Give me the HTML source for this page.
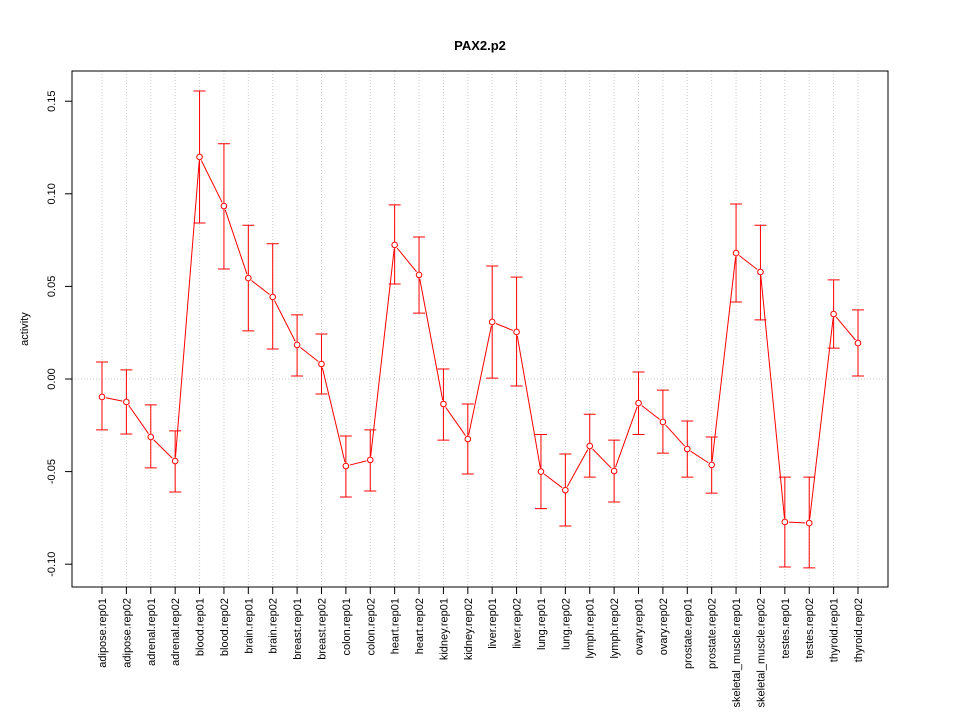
<!DOCTYPE html>
<html><head><meta charset="utf-8"><style>
body{margin:0;background:#fff;}
svg{display:block;font-family:"Liberation Sans",sans-serif;}
</style></head><body>
<svg id="chart" width="960" height="720">
<text x="480" y="50" text-anchor="middle" font-size="13" font-weight="bold">PAX2.p2</text>
<text transform="translate(28,329) rotate(-90)" text-anchor="middle" font-size="11">activity</text>
<g id="grid"></g><g id="axes"></g><g id="marks"></g>
<rect x="72" y="71" width="816" height="516" fill="none" stroke="#000"/>
</svg>
<script>
const categories=["adipose.rep01","adipose.rep02","adrenal.rep01","adrenal.rep02","blood.rep01","blood.rep02","brain.rep01","brain.rep02","breast.rep01","breast.rep02","colon.rep01","colon.rep02","heart.rep01","heart.rep02","kidney.rep01","kidney.rep02","liver.rep01","liver.rep02","lung.rep01","lung.rep02","lymph.rep01","lymph.rep02","ovary.rep01","ovary.rep02","prostate.rep01","prostate.rep02","skeletal_muscle.rep01","skeletal_muscle.rep02","testes.rep01","testes.rep02","thyroid.rep01","thyroid.rep02"];
const values=[-0.0097,-0.0124,-0.0313,-0.0443,0.1199,0.0934,0.0545,0.0443,0.0184,0.0081,-0.047,-0.0437,0.0724,0.0562,-0.0135,-0.0324,0.0308,0.0254,-0.05,-0.06,-0.0362,-0.0497,-0.013,-0.0232,-0.0378,-0.0464,0.068,0.0578,-0.0772,-0.0778,0.0351,0.0194];
const upper=[0.0092,0.0049,-0.014,-0.028,0.1555,0.127,0.083,0.073,0.0346,0.0243,-0.0308,-0.0275,0.094,0.0767,0.0054,-0.0135,0.061,0.055,-0.030,-0.0405,-0.019,-0.033,0.0038,-0.006,-0.0227,-0.0313,0.0945,0.083,-0.053,-0.053,0.0535,0.0373];
const lower=[-0.0275,-0.0297,-0.048,-0.061,0.0842,0.0594,0.026,0.0162,0.0016,-0.0081,-0.0637,-0.0605,0.0513,0.0356,-0.033,-0.0513,0.0005,-0.0038,-0.070,-0.0794,-0.053,-0.0664,-0.030,-0.040,-0.053,-0.0616,0.0416,0.0319,-0.1015,-0.102,0.0167,0.0016];
const yTicks=[-0.10,-0.05,0.00,0.05,0.10,0.15];
const yTickLabels=["-0.10","-0.05","0.00","0.05","0.10","0.15"];
const NS="http://www.w3.org/2000/svg";
function x(i){return 102+i*(858-102)/(categories.length-1);}
function y(v){return 379-v*1852;}
function mk(tag,attrs,parent){const e=document.createElementNS(NS,tag);for(const k in attrs)e.setAttribute(k,attrs[k]);document.getElementById(parent).appendChild(e);return e;}
categories.forEach((c,i)=>{
 const g=mk("line",{x1:x(i),x2:x(i),y1:71,y2:587,stroke:"#ccc","stroke-dasharray":"1,2"},"grid");
 
 
 const t=mk("line",{x1:x(i),x2:x(i),y1:587,y2:594,stroke:"#000"},"axes");
 
 
 const l=mk("text",{transform:`translate(${x(i)+4},598) rotate(-90)`,"text-anchor":"end","font-size":"11"},"axes");
 l.textContent=c;
 
 
});
const zl=mk("line",{x1:72,x2:888,y1:y(0),y2:y(0),stroke:"#ccc","stroke-dasharray":"1,2"},"grid");


yTicks.forEach((v,i)=>{
 const t=mk("line",{x1:65,x2:72,y1:y(v),y2:y(v),stroke:"#000"},"axes");
 
 
 const l=mk("text",{transform:`translate(55,${y(v)}) rotate(-90)`,"text-anchor":"middle","font-size":"11"},"axes");
 l.textContent=yTickLabels[i];
 
 
});
for(let i=0;i<values.length-1;i++){
 const x1=x(i),y1=y(values[i]),x2=x(i+1),y2=y(values[i+1]);
 const dx=x2-x1,dy=y2-y1,len=Math.hypot(dx,dy),g=4;
 if(len<=2*g)continue;
 const s=mk("line",{x1:x1+dx*g/len,y1:y1+dy*g/len,x2:x2-dx*g/len,y2:y2-dy*g/len,stroke:"red"},"marks");
 
 
}
values.forEach((v,i)=>{
 const xi=x(i);
 const e=mk("path",{d:`M${xi},${y(upper[i])}V${y(lower[i])}M${xi-6},${y(upper[i])}H${xi+6}M${xi-6},${y(lower[i])}H${xi+6}`,stroke:"red",fill:"none"},"marks");
 
 
 const p=mk("circle",{cx:xi,cy:y(v),r:2.8,fill:"#fff",stroke:"red"},"marks");
 
 
});
</script>
</body></html>
